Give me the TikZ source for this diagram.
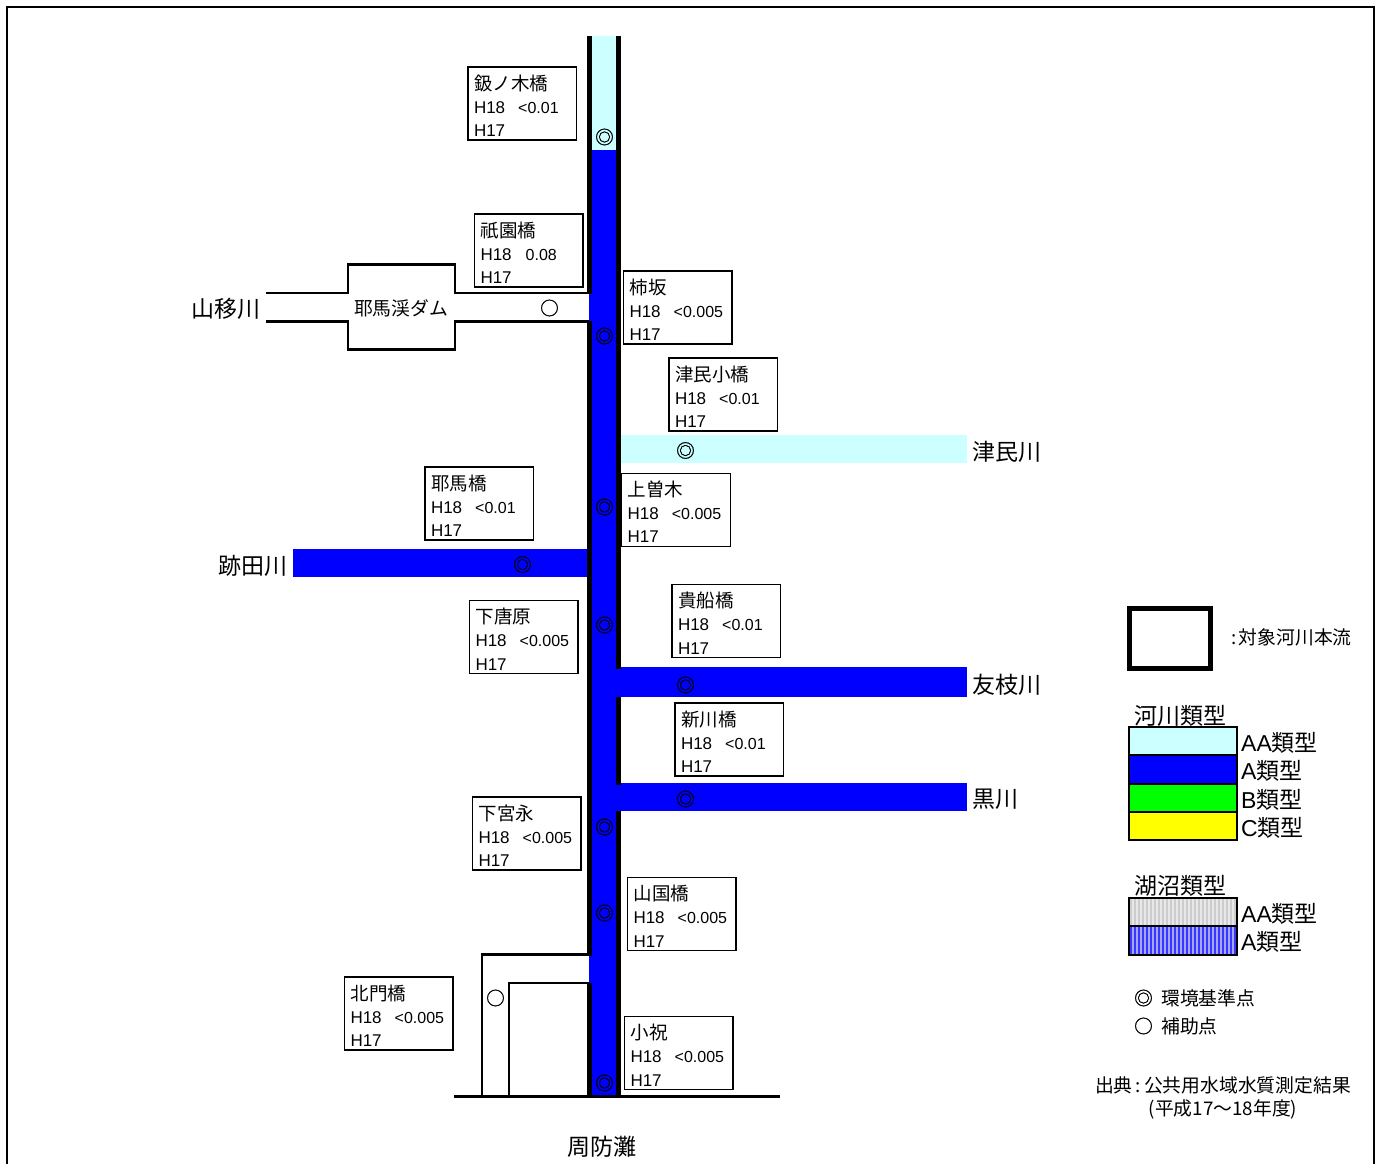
\documentclass[tikz,border=0pt]{standalone}
\usepackage{fontspec}
\setmainfont{Liberation Sans}
\newfontfamily\jp{Noto Sans CJK JP}
\newfontfamily\jpmark[FakeBold=1.2]{Noto Sans CJK JP}

\definecolor{classAA}{HTML}{CCFFFF}
\definecolor{classA}{HTML}{0000FF}
\definecolor{classB}{HTML}{00FF00}
\definecolor{classC}{HTML}{FFFF00}

\newcommand{\binfo}[2]{{\jp\fontsize{18.5}{23.6}\selectfont\rule{0pt}{20pt}#1}\\[-1pt]H18\hspace{13pt}{\fontsize{16}{23.6}\selectfont #2}\\H17}

\tikzset{
  infobox/.style={draw, line width=1.2pt, anchor=north west, outer sep=0pt, inner xsep=6pt, inner ysep=1pt,
    minimum width=108.5pt, minimum height=73pt, text width=96.5pt, align=left,
    font=\fontsize{17}{23.6}\selectfont},
  wall/.style={line width=4.8pt},
  bank/.style={line width=2.3pt},
  kijun/.style={inner sep=0pt, font=\jpmark\fontsize{18.5}{18.5}\selectfont},
  bigtext/.style={inner sep=0pt, font=\jp\fontsize{23}{23}\selectfont},
  smalltext/.style={inner sep=0pt, font=\jp\fontsize{18.8}{18.8}\selectfont},
  legtext/.style={inner sep=0pt, anchor=west, font=\fontsize{23}{23}\selectfont},
  legbox/.style={draw, line width=2pt}
}

\begin{document}
\begin{tikzpicture}[x=1pt,y=-1pt]
\useasboundingbox (0,0) rectangle (1384,1164);

% Frame
\draw[line width=2pt] (7,1164) -- (7,7) -- (1373.5,7) -- (1373.5,1164);

% Main river
\fill[classAA] (591,36) rectangle (617,150);
\fill[classA] (591,150) rectangle (617,1096);
\fill[classA] (589,293) rectangle (592,321);
\fill[classA] (589,955) rectangle (592,983);

% Tributaries
\fill[classAA] (621,434.5) rectangle (967,463);
\fill[classA] (293,549) rectangle (587,577);
\fill[classA] (616,667) rectangle (967,696.5);
\fill[classA] (616,783) rectangle (967,810.5);

% Walls of main river
\draw[wall] (589.4,36) -- (589.4,293.5);
\draw[wall] (589.4,321) -- (589.4,955.5);
\draw[wall] (589.4,982.5) -- (589.4,1097);
\draw[wall] (618.5,36) -- (618.5,668.5);
\draw[wall] (618.5,697) -- (618.5,784.5);
\draw[wall] (618.5,811) -- (618.5,1097);

% Yamautsuri river and dam
\draw[bank] (266,292.7) -- (347.7,292.7) -- (347.7,264.5) -- (455,264.5) -- (455,292.7) -- (589,292.7);
\draw[bank] (266,321.5) -- (347.7,321.5) -- (347.7,349.5) -- (455,349.5) -- (455,321.5) -- (589,321.5);
\node[smalltext] (damlabel) at (401,308) {耶馬渓ダム};

% Coast and side channel
\draw[bank] (454,1096.5) -- (780,1096.5);
\draw[bank] (482.3,1096.5) -- (482.3,954.5) -- (589,954.5);
\draw[bank] (509,1096.5) -- (509,983) -- (589,983);

% Stations
\node[kijun] (st1) at (604.5,137) {◎};
\node[kijun] (st2) at (604.5,336) {◎};
\node[kijun] (st3) at (685.5,450.5) {◎};
\node[kijun] (st4) at (604.5,507) {◎};
\node[kijun] (st5) at (522.5,564.5) {◎};
\node[kijun] (st6) at (604.5,625) {◎};
\node[kijun] (st7) at (685.5,685) {◎};
\node[kijun] (st8) at (685.5,799) {◎};
\node[kijun] (st9) at (604.5,827) {◎};
\node[kijun] (st10) at (604.5,913) {◎};
\node[kijun] (st11) at (604.5,1083) {◎};
\node[kijun] (aux1) at (549.5,308) {○};
\node[kijun] (aux2) at (495.5,998) {○};

% Station boxes
\node[infobox] (hasamiki) at (468,67) {\binfo{鈒ノ木橋}{<0.01}};
\node[infobox] (gion) at (474.5,214) {\binfo{祇園橋}{\hspace{1pt}0.08}};
\node[infobox] (kakisaka) at (623.5,271) {\binfo{柿坂}{<0.005}};
\node[infobox] (tsutami) at (669,358) {\binfo{津民小橋}{<0.01}};
\node[infobox] (kamisogi) at (621.7,473.3) {\binfo{上曽木}{<0.005}};
\node[infobox] (yabakei) at (425,467) {\binfo{耶馬橋}{<0.01}};
\node[infobox] (shimokarabaru) at (469.5,600.5) {\binfo{下唐原}{<0.005}};
\node[infobox] (kifune) at (672,584.5) {\binfo{貴船橋}{<0.01}};
\node[infobox] (shinkawa) at (675,703) {\binfo{新川橋}{<0.01}};
\node[infobox] (shimomiyanaga) at (472.5,797) {\binfo{下宮永}{<0.005}};
\node[infobox] (yamakuni) at (627.5,877.5) {\binfo{山国橋}{<0.005}};
\node[infobox] (kitakado) at (344.5,977) {\binfo{北門橋}{<0.005}};
\node[infobox] (koiwai) at (624.5,1016.5) {\binfo{小祝}{<0.005}};

% River names
\node[bigtext] (yamautsuri) at (225.5,309) {山移川};
\node[bigtext] (atoda) at (252.5,565.5) {跡田川};
\node[bigtext] (tsutamigawa) at (1007,452) {津民川};
\node[bigtext] (tomoeda) at (1007,685) {友枝川};
\node[bigtext] (kurokawa) at (995.5,799.5) {黒川};
\node[bigtext] (suonada) at (602,1147) {周防灘};

% Legend: main river
\draw[line width=5pt] (1129.5,608.5) rectangle (1210.5,668.5);
\node[smalltext, anchor=west] (mainlabel) at (1231,637.5) {:\hspace{2.5pt}対象河川本流};

% Legend: river classes
\node[bigtext, anchor=west] (rivertitle) at (1134,715.5) {河川類型};
\draw[legbox, fill=classAA] (1129,727) rectangle (1237,755);
\draw[legbox, fill=classA] (1129,755) rectangle (1237,784);
\draw[legbox, fill=classB] (1129,784) rectangle (1237,812);
\draw[legbox, fill=classC] (1129,812) rectangle (1237,840);
\node[legtext] (riverAA) at (1241,743) {AA{\jp 類型}};
\node[legtext] (riverA) at (1241,771) {A{\jp 類型}};
\node[legtext] (riverB) at (1241,799.5) {B{\jp 類型}};
\node[legtext] (riverC) at (1241,828) {C{\jp 類型}};

% Legend: lake classes
\node[bigtext, anchor=west] (laketitle) at (1134,886) {湖沼類型};
\fill[black!9] (1129,898) rectangle (1237,926);
\fill[classA!35] (1129,926) rectangle (1237,955);
\foreach \sx in {1130,1134,...,1234} {
  \fill[black!20] (\sx,898) rectangle (\sx+1.6,926);
  \fill[classA!78] (\sx,926) rectangle (\sx+2.4,955);
}
\draw[legbox] (1129,898) rectangle (1237,926);
\draw[legbox] (1129,926) rectangle (1237,955);
\node[legtext] (lakeAA) at (1241,914) {AA{\jp 類型}};
\node[legtext] (lakeA) at (1241,942) {A{\jp 類型}};

% Legend: points
\node[kijun] (legkijun) at (1143.5,998) {◎};
\node[smalltext, anchor=west] (legkijuntext) at (1161,998) {環境基準点};
\node[kijun] (legaux) at (1143.5,1026) {○};
\node[smalltext, anchor=west] (legauxtext) at (1161,1026) {補助点};

% Source
\node[smalltext, anchor=east] (source) at (1351,1085.5) {出典\hspace{3pt}:\hspace{3pt}公共用水域水質測定結果};
\node[smalltext] (years) at (1223,1109.5) {(平成17～18年度)};

\end{tikzpicture}
\end{document}
